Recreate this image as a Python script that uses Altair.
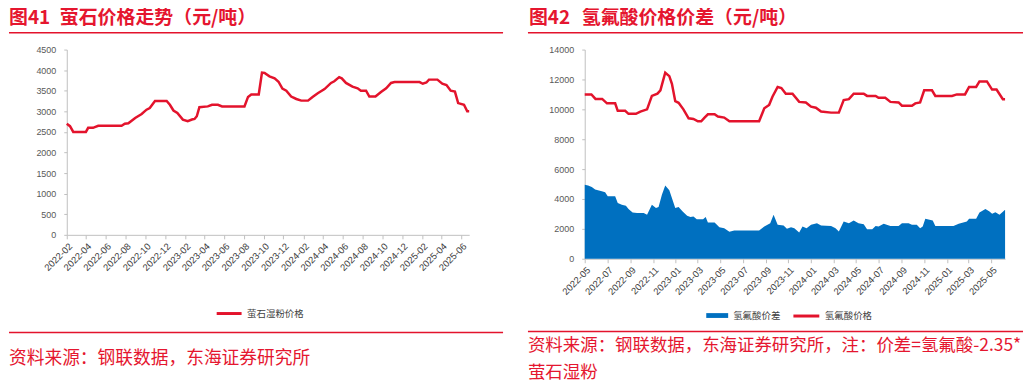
import altair as alt
import pandas as pd

# ---------------- data ----------------
fluorite_dates = ["2022-02-01","2022-02-11","2022-02-21","2022-04-01","2022-04-08","2022-04-23","2022-05-09","2022-07-20","2022-07-30","2022-08-10","2022-08-31","2022-09-20","2022-10-05","2022-10-15","2022-10-31","2022-12-06","2022-12-16","2022-12-27","2023-01-08","2023-01-25","2023-02-09","2023-02-22","2023-03-02","2023-03-09","2023-03-17","2023-04-12","2023-04-25","2023-05-13","2023-05-26","2023-08-03","2023-08-14","2023-08-24","2023-09-16","2023-09-26","2023-10-04","2023-10-19","2023-11-04","2023-11-16","2023-11-28","2023-12-10","2023-12-25","2024-01-10","2024-01-25","2024-02-15","2024-02-29","2024-03-16","2024-04-06","2024-04-26","2024-05-06","2024-05-21","2024-05-29","2024-06-11","2024-07-01","2024-07-17","2024-07-27","2024-08-12","2024-08-22","2024-09-10","2024-09-27","2024-10-13","2024-10-28","2024-11-08","2025-01-24","2025-02-03","2025-02-14","2025-02-22","2025-03-20","2025-04-04","2025-04-17","2025-04-30","2025-05-13","2025-05-23","2025-06-10","2025-06-20","2025-06-26"]
fluorite_values = [2700,2640,2500,2500,2600,2600,2650,2650,2700,2710,2840,2935,3040,3080,3250,3250,3160,3020,2960,2800,2760,2800,2815,2880,3100,3120,3160,3160,3120,3120,3350,3410,3410,3940,3930,3850,3800,3720,3550,3500,3360,3300,3260,3260,3350,3440,3540,3690,3730,3830,3800,3690,3600,3560,3500,3500,3360,3360,3470,3560,3690,3710,3710,3670,3700,3770,3770,3670,3640,3500,3480,3200,3160,3000,3000]

hf_dates = ["2022-05-01","2022-05-19","2022-05-30","2022-06-17","2022-06-30","2022-07-22","2022-07-29","2022-08-18","2022-08-27","2022-09-16","2022-09-28","2022-10-16","2022-10-29","2022-11-13","2022-11-21","2022-12-04","2022-12-15","2022-12-22","2022-12-31","2023-01-09","2023-01-22","2023-02-05","2023-02-18","2023-03-02","2023-03-11","2023-03-20","2023-03-29","2023-04-16","2023-04-25","2023-05-12","2023-05-26","2023-08-14","2023-08-28","2023-09-10","2023-09-19","2023-10-03","2023-10-13","2023-10-25","2023-11-12","2023-11-30","2023-12-18","2024-01-01","2024-01-14","2024-01-28","2024-02-24","2024-03-16","2024-03-29","2024-04-12","2024-04-25","2024-05-22","2024-05-31","2024-06-23","2024-07-01","2024-07-19","2024-08-02","2024-08-24","2024-09-02","2024-09-29","2024-10-08","2024-10-21","2024-11-01","2024-11-22","2024-12-01","2025-01-15","2025-01-28","2025-02-19","2025-03-02","2025-03-21","2025-03-30","2025-04-19","2025-05-03","2025-05-15","2025-06-01","2025-06-07"]
hf_price = [11000,11000,10700,10700,10400,10400,9900,9900,9700,9700,9850,10000,10900,11050,11270,12450,12220,11710,10550,10440,10000,9400,9360,9200,9200,9450,9670,9670,9520,9450,9200,9200,10070,10290,10840,11500,11430,11050,11050,10500,10460,10180,10110,9850,9780,9780,10620,10680,11050,11050,10900,10900,10770,10770,10500,10460,10240,10240,10400,10460,11270,11270,10900,10900,11000,11000,11500,11500,11870,11870,11320,11320,10680,10680]

spread_dates = ["2022-05-01","2022-05-10","2022-05-20","2022-05-29","2022-06-16","2022-06-25","2022-07-02","2022-07-22","2022-07-29","2022-08-09","2022-08-20","2022-08-27","2022-09-07","2022-09-19","2022-10-07","2022-10-16","2022-10-29","2022-11-09","2022-11-16","2022-11-25","2022-12-04","2022-12-15","2022-12-22","2022-12-31","2023-01-09","2023-01-20","2023-02-01","2023-02-10","2023-02-18","2023-02-27","2023-03-16","2023-03-23","2023-03-29","2023-04-16","2023-04-29","2023-05-12","2023-05-26","2023-06-08","2023-08-14","2023-08-28","2023-09-13","2023-09-22","2023-10-03","2023-10-19","2023-10-28","2023-11-08","2023-11-17","2023-11-30","2023-12-09","2023-12-20","2024-01-01","2024-01-17","2024-01-28","2024-02-24","2024-03-07","2024-03-16","2024-03-29","2024-04-12","2024-04-25","2024-05-08","2024-05-22","2024-05-31","2024-06-14","2024-06-23","2024-07-01","2024-07-15","2024-08-02","2024-08-24","2024-09-02","2024-09-20","2024-09-29","2024-10-12","2024-10-21","2024-10-28","2024-11-04","2024-11-24","2024-12-01","2025-01-19","2025-02-02","2025-02-24","2025-03-02","2025-03-21","2025-03-30","2025-04-15","2025-04-26","2025-05-03","2025-05-12","2025-05-23","2025-06-07"]
spread_values = [4950,4900,4810,4630,4520,4450,4180,4180,3730,3620,3550,3330,3100,3060,3060,2940,3620,3390,3460,4290,4900,4580,4070,3390,3460,3170,2880,2790,2830,2650,2650,2790,2430,2430,2110,2040,1800,1890,1890,2160,2380,2940,2270,2220,2000,2110,2040,1750,2160,2040,2270,2380,2220,2200,2040,1820,2490,2380,2560,2380,2310,1980,1980,2200,2160,2340,2200,2200,2380,2380,2270,2270,2040,2160,2670,2560,2200,2200,2340,2490,2670,2670,3100,3330,3170,3010,3120,2940,3280]

x_ticks_a = ["2022-02","2022-04","2022-06","2022-08","2022-10","2022-12","2023-02","2023-04","2023-06","2023-08","2023-10","2023-12","2024-02","2024-04","2024-06","2024-08","2024-10","2024-12","2025-02","2025-04","2025-06"]
x_ticks_b = ["2022-05","2022-07","2022-09","2022-11","2023-01","2023-03","2023-05","2023-07","2023-09","2023-11","2024-01","2024-03","2024-05","2024-07","2024-09","2024-11","2025-01","2025-03","2025-05"]
x_domain_a = ["2022-02-01", "2025-06-26"]
x_domain_b = ["2022-05-01", "2025-06-07"]
y_ticks_a = [0, 500, 1000, 1500, 2000, 2500, 3000, 3500, 4000, 4500]
y_ticks_b = [0, 2000, 4000, 6000, 8000, 10000, 12000, 14000]

title_a = ["图41", "萤石价格走势（元/吨）"]
title_b = ["图42", "氢氟酸价格价差（元/吨）"]
source_a = ["资料来源：钢联数据，东海证券研究所"]
source_b = ["资料来源：钢联数据，东海证券研究所，注：价差=氢氟酸-2.35*", "萤石湿粉"]
series_a = "萤石湿粉价格"
series_b_area = "氢氟酸价差"
series_b_line = "氢氟酸价格"

# ---------------- style ----------------
RED = "#E3132C"
TXT_RED = "#E5162F"
BLUE = "#0070C0"
AXIS_GREY = "#BFBFBF"
LABEL_GREY = "#595959"
CJK = "Noto Sans CJK SC"
LAT = "Liberation Sans"


def dt(s):
    p = s.split("-")
    return alt.DateTime(year=int(p[0]), month=int(p[1]), date=int(p[2]) if len(p) > 2 else 1, utc=True)


def x_enc(domain, ticks):
    return alt.X(
        "date:T",
        scale=alt.Scale(type="utc", domain=[dt(d) for d in domain], nice=False),
        axis=alt.Axis(values=[dt(t) for t in ticks],
                      labelExpr="utcFormat(datum.value, '%Y-%m')",
                      labelAngle=-45, labelFont=LAT, labelFontSize=9.5, labelColor="#404040",
                      labelOverlap=False, labelFlush=False, labelPadding=2,
                      tickSize=4, tickColor=AXIS_GREY, domainColor=AXIS_GREY,
                      grid=False, title=None),
    )


def y_enc(top, ticks):
    return alt.Y(
        "value:Q",
        scale=alt.Scale(domain=[0, top], nice=False),
        axis=alt.Axis(values=ticks, format="d", labelFont=LAT, labelFontSize=9, labelColor=LABEL_GREY,
                      labelPadding=8, tickSize=3, tickColor=AXIS_GREY, domainColor=AXIS_GREY,
                      grid=False, title=None),
    )


def text_layer(text, x, y, size, weight="normal", baseline="middle"):
    return alt.Chart(pd.DataFrame({"t": [text]})).mark_text(
        align="left", baseline=baseline, fontSize=size, fontWeight=weight, color=TXT_RED, font=CJK
    ).encode(x=alt.value(x), y=alt.value(y), text="t:N")


def rule_layer(x1, x2, y, w):
    return alt.Chart(pd.DataFrame({"a": [0]})).mark_rule(color=RED, strokeWidth=w).encode(
        x=alt.value(x1), x2=alt.value(x2), y=alt.value(y)
    )


def legend(x, y, symbol, size, stroke_w=None):
    kw = dict(orient="none", legendX=x, legendY=y, title=None, symbolType=symbol, symbolSize=size,
              labelFont=CJK, labelFontSize=9.5, labelColor="#404040", padding=0, labelOffset=4)
    if stroke_w is not None:
        kw["symbolStrokeWidth"] = stroke_w
    return alt.Legend(**kw)


# ---------------- panel A ----------------
dfA = pd.DataFrame({"date": fluorite_dates, "value": fluorite_values, "series": series_a})
lineA = alt.Chart(dfA).mark_line(strokeWidth=2.5).encode(
    x=x_enc(x_domain_a, x_ticks_a),
    y=y_enc(4500, y_ticks_a),
    color=alt.Color("series:N", scale=alt.Scale(domain=[series_a], range=[RED]),
                    legend=legend(149, 251, "stroke", 625, 3)),
)
panelA = alt.layer(
    lineA,
    text_layer(title_a[0], -58, -31.5, 19, "bold"),
    text_layer(title_a[1], -7, -31.5, 19, "bold"),
    rule_layer(-58, 438, -17, 1.5),
    rule_layer(-58, 438, 284, 1.5),
    text_layer(source_a[0], -58, 311, 17.8),
).properties(width=404, height=186)

# ---------------- panel B ----------------
dfB_area = pd.DataFrame({"date": spread_dates, "value": spread_values, "series": series_b_area})
dfB_line = pd.DataFrame({"date": hf_dates, "value": hf_price, "series": series_b_line})
areaB = alt.Chart(dfB_area).mark_area().encode(
    x=x_enc(x_domain_b, x_ticks_b),
    y=y_enc(14000, y_ticks_b),
    color=alt.Color("series:N", scale=alt.Scale(domain=[series_b_area], range=[BLUE]),
                    legend=legend(121, 255, "M-1,-0.22H1V0.22H-1Z", 484)),
)
lineB = alt.Chart(dfB_line).mark_line(strokeWidth=2.5).encode(
    x=x_enc(x_domain_b, x_ticks_b),
    y=y_enc(14000, y_ticks_b),
    color=alt.Color("series:N", scale=alt.Scale(domain=[series_b_line], range=[RED]),
                    legend=legend(208, 253, "stroke", 676, 3)),
)
panelB = alt.layer(
    areaB,
    lineB,
    text_layer(title_b[0], -56, -31.5, 19, "bold"),
    text_layer(title_b[1], -3, -31.5, 19, "bold"),
    rule_layer(-57, 440, -17, 1.5),
    rule_layer(-57, 440, 283, 1.5),
    text_layer(source_b[0], -57, 298, 17.5),
    text_layer(source_b[1], -57, 325, 17.5),
).resolve_scale(color="independent").resolve_legend(color="independent").properties(width=422, height=210)

chart = alt.hconcat(panelA, panelB, spacing=23).properties(padding=0).configure_view(stroke=None)

chart.save("out.html", embed_options={"renderer": "svg", "actions": False})
